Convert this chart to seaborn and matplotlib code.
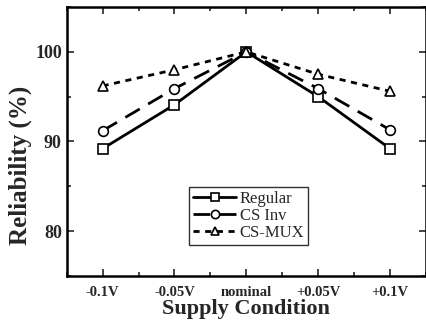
import numpy as np
import pandas as pd
import seaborn as sns
import matplotlib.pyplot as plt
from matplotlib.ticker import MultipleLocator

conditions = ['-0.1V', '-0.05V', 'nominal', '+0.05V', '+0.1V']
regular = [89.2, 94.1, 100.0, 95.0, 89.2]
cs_inv = [91.2, 95.9, 100.0, 95.9, 91.3]
cs_mux = [96.2, 98.0, 100.0, 97.5, 95.6]

sns.set_style('ticks')
plt.rcParams['font.family'] = ['Liberation Serif', 'DejaVu Serif']

fig = plt.figure(figsize=(4.26, 3.28), dpi=100)
ax = fig.add_axes([0.1565, 0.1585, 0.8435, 0.8202])

x = np.arange(len(conditions))
series = [
    ('Regular', regular, '-', 's'),
    ('CS Inv', cs_inv, (0, (6, 3.5)), 'o'),
    ('CS-MUX', cs_mux, (0, (2.2, 2)), '^'),
]
for name, vals, ls, mk in series:
    df = pd.DataFrame({'x': x, 'y': vals})
    sns.lineplot(data=df, x='x', y='y', ax=ax, color='black', linestyle=ls,
                 linewidth=2, marker=mk, markersize=7, markerfacecolor='white',
                 markeredgecolor='black', markeredgewidth=1.2, label=name)

ax.set_xlim(-0.5, 4.5)
ax.set_ylim(75, 105)
ax.set_xticks(x)
ax.set_xticklabels(conditions, fontweight='bold', fontsize=10.5)
ax.xaxis.set_minor_locator(MultipleLocator(0.5))
ax.yaxis.set_major_locator(MultipleLocator(10))
ax.yaxis.set_minor_locator(MultipleLocator(5))
for lab in ax.get_yticklabels():
    lab.set_fontweight('bold')
    lab.set_fontsize(13)
ax.tick_params(which='both', direction='in', top=True, right=True, width=1.2)
ax.tick_params(which='major', length=5)
ax.tick_params(which='minor', length=3)
ax.tick_params(axis='x', pad=7)
for s in ax.spines.values():
    s.set_linewidth(1.8)
    s.set_color('black')

ax.set_xlabel('Supply Condition', fontweight='bold', fontsize=16, labelpad=0)
ax.set_ylabel('Reliability (%)', fontweight='bold', fontsize=18)
ax.yaxis.set_label_coords(-0.097, 0.413)

leg = ax.legend(loc='upper left', bbox_to_anchor=(0.34, 0.331), frameon=True,
                fancybox=False, edgecolor='black', fontsize=12,
                handlelength=2.6, handletextpad=0.2, borderpad=0.25,
                labelspacing=0.05, borderaxespad=0, markerscale=0.85)
leg.get_frame().set_linewidth(1.0)

fig.savefig('out.png', dpi=100)
